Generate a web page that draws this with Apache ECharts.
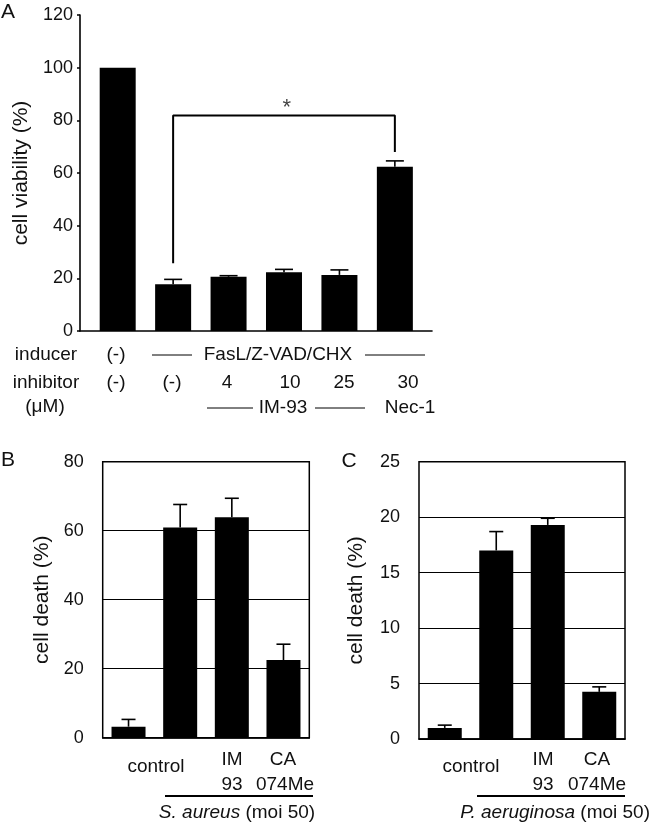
<!DOCTYPE html>
<html>
<head>
<meta charset="utf-8">
<script src="https://cdn.jsdelivr.net/npm/echarts@6/dist/echarts.min.js"></script>
<style>
html,body{margin:0;padding:0;background:#fff;}
#chart{width:650px;height:827px;}
</style>
</head>
<body>
<div id="chart"></div>
<script>
// ---------- data ----------
const groupsA = ['untreated', 'FasL/Z-VAD/CHX', 'IM-93 4', 'IM-93 10', 'IM-93 25', 'Nec-1 30'];
const viabilityA = [100, 17.8, 20.6, 22.3, 21.3, 62.4];
const viabilityErrA = [0, 1.8, 0.4, 1.1, 1.9, 2.2];
const inducerRow = ['(-)', 'FasL/Z-VAD/CHX'];
const inhibitorRow = ['(-)', '(-)', '4', '10', '25', '30'];
const bracketA = { from: 1, to: 5, top: 81.8, leftEnd: 25.7, rightEnd: 68 };
const ticksA = { min: 0, max: 120, interval: 20 };

const groupsBC = ['uninfected', 'control', 'IM 93', 'CA 074Me'];
const deathB = [3.2, 60.9, 63.9, 22.5];
const deathErrB = [2.1, 6.7, 5.5, 4.6];
const ticksB = { min: 0, max: 80, interval: 20 };
const deathC = [1.0, 17.0, 19.3, 4.25];
const deathErrC = [0.25, 1.7, 0.6, 0.45];
const ticksC = { min: 0, max: 25, interval: 5 };

// ---------- chart ----------
const FONT = '"Liberation Sans", Arial, sans-serif';
const INK = '#111';
const chart = echarts.init(document.getElementById('chart'), null, { renderer: 'canvas' });

function errSeries(xIdx, yIdx, vals, errs, cap) {
  return {
    type: 'custom', xAxisIndex: xIdx, yAxisIndex: yIdx, z: 5,
    data: vals.map((v, i) => [i, v, errs[i]]),
    renderItem: function (params, api) {
      const x = api.value(0), v = api.value(1), e = api.value(2);
      if (!e) return null;
      const p0 = api.coord([x, v]);
      const p1 = api.coord([x, v + e]);
      const st = { stroke: '#000', lineWidth: 1.6 };
      return {
        type: 'group', children: [
          { type: 'line', shape: { x1: p0[0], y1: p0[1], x2: p1[0], y2: p1[1] }, style: st },
          { type: 'line', shape: { x1: p1[0] - cap / 2, y1: p1[1], x2: p1[0] + cap / 2, y2: p1[1] }, style: st }
        ]
      };
    }
  };
}

const txt = (x, y, s, opt) => Object.assign({
  type: 'text', x: x, y: y,
  style: Object.assign({ text: s, font: '19px ' + FONT, fill: INK, textAlign: 'center', textVerticalAlign: 'middle' }, opt || {})
});
const hline = (x1, x2, y, w) => ({
  type: 'line', shape: { x1: x1, y1: y, x2: x2, y2: y }, style: { stroke: '#000', lineWidth: w || 1 }
});

const yLabel = { color: INK, fontSize: 18, fontFamily: FONT };
const yName = { color: INK, fontSize: 21, fontFamily: FONT };

const option = {
  animation: false,
  backgroundColor: '#fff',
  grid: [
    { left: 80, top: 15, width: 352, height: 316, outerBoundsMode: 'none' },
    { left: 102.7, top: 461.7, width: 206.6, height: 276, show: true, borderColor: '#000', borderWidth: 1.5, outerBoundsMode: 'none' },
    { left: 419, top: 461.7, width: 206, height: 277.3, show: true, borderColor: '#000', borderWidth: 1.5, outerBoundsMode: 'none' }
  ],
  xAxis: [
    { gridIndex: 0, type: 'value', min: -0.68, max: 5.67,
      axisLine: { show: true, onZero: false, lineStyle: { color: '#000', width: 1.6 } },
      axisTick: { show: false }, axisLabel: { show: false }, splitLine: { show: false } },
    { gridIndex: 1, type: 'category', data: groupsBC,
      axisLine: { show: true, lineStyle: { color: '#000', width: 1.5 } },
      axisTick: { show: false }, axisLabel: { show: false } },
    { gridIndex: 2, type: 'category', data: groupsBC,
      axisLine: { show: true, lineStyle: { color: '#000', width: 1.5 } },
      axisTick: { show: false }, axisLabel: { show: false } }
  ],
  yAxis: [
    { gridIndex: 0, type: 'value', min: ticksA.min, max: ticksA.max, interval: ticksA.interval,
      name: 'cell viability (%)', nameLocation: 'middle', nameGap: 48, nameRotate: 90, nameTextStyle: yName,
      axisLine: { show: true, onZero: false, lineStyle: { color: '#000', width: 1.6 } },
      axisTick: { show: true, length: 3, lineStyle: { color: '#000', width: 1.5 } },
      axisLabel: Object.assign({ margin: 7 }, yLabel), splitLine: { show: false } },
    { gridIndex: 1, type: 'value', min: ticksB.min, max: ticksB.max, interval: ticksB.interval,
      name: 'cell death (%)', nameLocation: 'middle', nameGap: 50, nameRotate: 90, nameTextStyle: yName,
      axisLine: { show: false }, axisTick: { show: false },
      axisLabel: Object.assign({ margin: 19 }, yLabel),
      splitLine: { show: true, lineStyle: { color: '#000', width: 1 } } },
    { gridIndex: 2, type: 'value', min: ticksC.min, max: ticksC.max, interval: ticksC.interval,
      name: 'cell death (%)', nameLocation: 'middle', nameGap: 52, nameRotate: 90, nameTextStyle: yName,
      axisLine: { show: false }, axisTick: { show: false },
      axisLabel: Object.assign({ margin: 19 }, yLabel),
      splitLine: { show: true, lineStyle: { color: '#000', width: 1 } } }
  ],
  series: [
    { type: 'bar', xAxisIndex: 0, yAxisIndex: 0, barWidth: 36, z: 3,
      itemStyle: { color: '#000' }, data: viabilityA.map((v, i) => [i, v]) },
    errSeries(0, 0, viabilityA, viabilityErrA, 18),
    { type: 'line', xAxisIndex: 0, yAxisIndex: 0, symbol: 'none', z: 4,
      lineStyle: { color: '#000', width: 2 },
      data: [[bracketA.from, bracketA.leftEnd], [bracketA.from, bracketA.top], [bracketA.to, bracketA.top], [bracketA.to, bracketA.rightEnd]] },
    { type: 'scatter', xAxisIndex: 0, yAxisIndex: 0, symbolSize: 1, itemStyle: { color: 'rgba(0,0,0,0)' },
      label: { show: true, position: 'top', distance: -4, formatter: '*', color: INK, fontSize: 22, fontFamily: FONT },
      data: [[(bracketA.from + bracketA.to) / 2 + 0.05, bracketA.top]] },

    { type: 'bar', xAxisIndex: 1, yAxisIndex: 1, barWidth: 34, z: 3,
      itemStyle: { color: '#000' }, data: deathB },
    errSeries(1, 1, deathB, deathErrB, 14),

    { type: 'bar', xAxisIndex: 2, yAxisIndex: 2, barWidth: 34, z: 3,
      itemStyle: { color: '#000' }, data: deathC },
    errSeries(2, 2, deathC, deathErrC, 14)
  ],
  graphic: [
    // panel letters
    txt(8, 12, 'A', { font: '21px ' + FONT }),
    txt(8, 460, 'B', { font: '21px ' + FONT }),
    txt(349, 461, 'C', { font: '21px ' + FONT }),

    // panel A table
    txt(46, 355, 'inducer'),
    txt(116, 355, inducerRow[0]),
    hline(152, 192, 355),
    txt(278, 355, inducerRow[1]),
    hline(365, 425, 355),
    txt(46, 383, 'inhibitor'),
    txt(116, 383, inhibitorRow[0]),
    txt(172, 383, inhibitorRow[1]),
    txt(227, 383, inhibitorRow[2]),
    txt(290, 383, inhibitorRow[3]),
    txt(344, 383, inhibitorRow[4]),
    txt(408, 383, inhibitorRow[5]),
    txt(45, 407, '(μM)'),
    hline(207, 253, 408),
    txt(283, 408, 'IM-93'),
    hline(315, 365, 408),
    txt(410, 408, 'Nec-1'),

    // panel B labels
    txt(156, 767, 'control'),
    txt(232, 760, 'IM'),
    txt(232, 785, '93'),
    txt(283, 760, 'CA'),
    txt(285, 785, '074Me'),
    hline(165, 313, 796, 2),
    { type: 'text', x: 237, y: 813, style: { text: '{i|S. aureus} (moi 50)', font: '19px ' + FONT, fill: INK,
      textAlign: 'center', textVerticalAlign: 'middle',
      rich: { i: { fontStyle: 'italic', fontSize: 19, fontFamily: FONT, fill: INK } } } },

    // panel C labels
    txt(471, 767, 'control'),
    txt(543, 760, 'IM'),
    txt(543, 785, '93'),
    txt(597, 760, 'CA'),
    txt(597, 785, '074Me'),
    hline(477, 625, 796, 2),
    { type: 'text', x: 650, y: 813, style: { text: '{i|P. aeruginosa} (moi 50)', font: '19px ' + FONT, fill: INK,
      textAlign: 'right', textVerticalAlign: 'middle',
      rich: { i: { fontStyle: 'italic', fontSize: 19, fontFamily: FONT, fill: INK } } } }
  ]
};
chart.setOption(option);
</script>
</body>
</html>
